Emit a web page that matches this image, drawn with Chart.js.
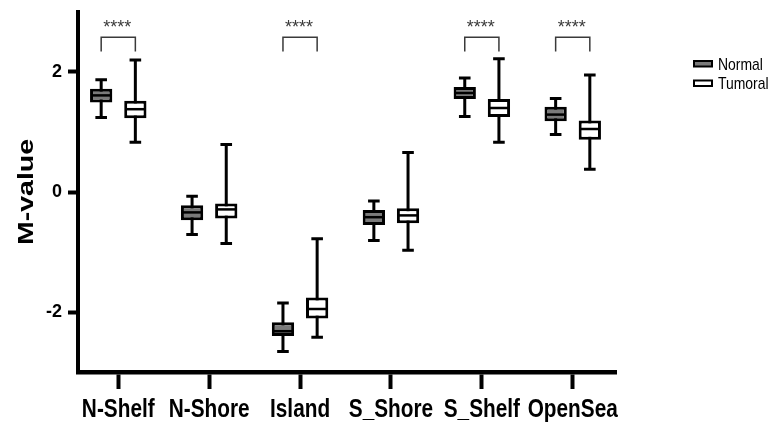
<!DOCTYPE html>
<html>
<head>
<meta charset="utf-8">
<script src="https://cdn.jsdelivr.net/npm/chart.js@4/dist/chart.umd.min.js"></script>
<style>
  html, body { margin: 0; padding: 0; background: #fff; }
  #wrap { width: 771px; height: 423px; }
</style>
</head>
<body>
<div id="wrap"><canvas id="chart" width="771" height="423"></canvas></div>
<script>
// --- Data ---
const categories = ["N-Shelf", "N-Shore", "Island", "S_Shore", "S_Shelf", "OpenSea"];
const seriesNames = ["Normal", "Tumoral"];

const normalMin = [1.24, -0.71, -2.66, -0.81, 1.26, 0.96];
const normalQ1  = [1.49, -0.47, -2.40, -0.55, 1.55, 1.18];
const normalMed = [1.61, -0.34, -2.32, -0.42, 1.65, 1.29];
const normalQ3  = [1.72, -0.22, -2.17, -0.30, 1.75, 1.42];
const normalMax = [1.87, -0.07, -1.85, -0.15, 1.90, 1.56];

const tumoralMin = [0.83, -0.86, -2.42, -0.97, 0.83, 0.38];
const tumoralQ1  = [1.23, -0.44, -2.11, -0.52, 1.25, 0.87];
const tumoralMed = [1.38, -0.29, -1.95, -0.39, 1.40, 1.05];
const tumoralQ3  = [1.52, -0.19, -1.76, -0.27, 1.55, 1.19];
const tumoralMax = [2.20, 0.79, -0.78, 0.66, 2.22, 1.95];

const yTicks = [-2, 0, 2];
const yTitle = "M-value";
const sigGroups = ["N-Shelf", "Island", "S_Shelf", "OpenSea"];
const sigLabel = "****";

const sans = "'Liberation Sans', Arial, sans-serif";

const boxStats = [
  { min: normalMin, med: normalMed, max: normalMax },
  { min: tumoralMin, med: tumoralMed, max: tumoralMax },
];

function boxData(q1, q3) {
  return categories.map((c, i) => ({ x: i, y: [q1[i], q3[i]] }));
}

// text squeezed sideways, like the condensed type of the original
function squeezedText(ctx, text, x, y, sx) {
  ctx.save();
  ctx.translate(x, y);
  ctx.scale(sx, 1);
  ctx.fillText(text, 0, 0);
  ctx.restore();
}

// --- Whiskers, medians, brackets, labels, legend ---
const boxPlotPlugin = {
  id: "boxPlot",
  beforeDatasetsDraw(chart) {
    const ctx = chart.ctx;
    const y = chart.scales.y;
    ctx.save();
    ctx.strokeStyle = "#000";
    ctx.lineWidth = 3;
    boxStats.forEach((s, d) => {
      chart.getDatasetMeta(d).data.forEach((bar, i) => {
        const yMin = y.getPixelForValue(s.min[i]);
        const yMax = y.getPixelForValue(s.max[i]);
        ctx.beginPath();
        ctx.moveTo(bar.x, yMin);
        ctx.lineTo(bar.x, yMax);
        ctx.moveTo(bar.x - 5.8, yMin);
        ctx.lineTo(bar.x + 5.8, yMin);
        ctx.moveTo(bar.x - 5.8, yMax);
        ctx.lineTo(bar.x + 5.8, yMax);
        ctx.stroke();
      });
    });
    ctx.restore();
  },
  afterDatasetsDraw(chart) {
    const ctx = chart.ctx;
    const y = chart.scales.y;
    ctx.save();
    ctx.strokeStyle = "#000";
    ctx.lineWidth = 2.5;
    boxStats.forEach((s, d) => {
      chart.getDatasetMeta(d).data.forEach((bar, i) => {
        const ym = y.getPixelForValue(s.med[i]);
        ctx.beginPath();
        ctx.moveTo(bar.x - bar.width / 2 + 2, ym);
        ctx.lineTo(bar.x + bar.width / 2 - 2, ym);
        ctx.stroke();
      });
    });

    // significance brackets
    const n = chart.getDatasetMeta(0).data;
    const t = chart.getDatasetMeta(1).data;
    const top = y.getPixelForValue(2.58);
    const legBottom = y.getPixelForValue(2.34);
    ctx.strokeStyle = "#3a3a3a";
    ctx.lineWidth = 1.5;
    ctx.fillStyle = "#3a3a3a";
    ctx.font = "18px " + sans;
    ctx.textAlign = "center";
    ctx.textBaseline = "alphabetic";
    sigGroups.forEach(g => {
      const i = categories.indexOf(g);
      const x1 = n[i].x, x2 = t[i].x;
      ctx.beginPath();
      ctx.moveTo(x1, legBottom);
      ctx.lineTo(x1, top);
      ctx.lineTo(x2, top);
      ctx.lineTo(x2, legBottom);
      ctx.stroke();
      ctx.fillText(sigLabel, (x1 + x2) / 2 - 1, top - 4.5);
    });
    ctx.restore();
  },
  afterDraw(chart) {
    const ctx = chart.ctx;
    const area = chart.chartArea;
    const xs = chart.scales.x;
    ctx.save();
    ctx.fillStyle = "#000";
    ctx.textBaseline = "alphabetic";

    // category labels
    ctx.font = "bold 26px " + sans;
    ctx.textAlign = "center";
    categories.forEach((c, i) => {
      squeezedText(ctx, c, xs.getPixelForValue(i), area.bottom + 45, 0.8);
    });

    // y title
    ctx.save();
    ctx.translate(33, (area.top + area.bottom) / 2);
    ctx.rotate(-Math.PI / 2);
    ctx.scale(1, 0.78);
    ctx.font = "bold 28.5px " + sans;
    ctx.fillText(yTitle, 0, 0);
    ctx.restore();

    // legend
    ctx.font = "17px " + sans;
    ctx.textAlign = "left";
    chart.data.datasets.forEach((ds, d) => {
      const bx = area.right + 78;
      const by = 61 + d * 19.5;
      ctx.fillStyle = ds.backgroundColor;
      ctx.fillRect(bx, by, 18, 5.5);
      ctx.strokeStyle = "#000";
      ctx.lineWidth = 2;
      ctx.strokeRect(bx, by, 18, 5.5);
      ctx.fillStyle = "#000";
      squeezedText(ctx, ds.label, bx + 24, by + 8.5, 0.82);
    });
    ctx.restore();
  }
};

new Chart(document.getElementById("chart"), {
  type: "bar",
  data: {
    datasets: [
      {
        label: seriesNames[0],
        data: boxData(normalQ1, normalQ3),
        backgroundColor: "#7a7a7a",
        borderColor: "#000",
        borderWidth: 3,
        borderSkipped: false,
        categoryPercentage: 0.752,
        barPercentage: 0.652
      },
      {
        label: seriesNames[1],
        data: boxData(tumoralQ1, tumoralQ3),
        backgroundColor: "#ffffff",
        borderColor: "#000",
        borderWidth: 3,
        borderSkipped: false,
        categoryPercentage: 0.752,
        barPercentage: 0.652
      }
    ]
  },
  options: {
    responsive: false,
    animation: false,
    layout: { padding: { top: 12, right: 155, left: 0, bottom: 0 } },
    plugins: {
      legend: { display: false },
      tooltip: { enabled: false }
    },
    scales: {
      x: {
        type: "linear",
        offset: false,
        min: -0.443,
        max: 5.476,
        afterBuildTicks: s => { s.ticks = categories.map((c, i) => ({ value: i })); },
        afterFit: s => { s.height = 51; s.paddingLeft = 0; s.paddingRight = 0; },
        grid: { offset: false, drawOnChartArea: false, tickLength: 17, tickWidth: 4, tickColor: "#000" },
        border: { width: 4.5, color: "#000" },
        ticks: { display: false }
      },
      y: {
        min: -3,
        max: 3,
        afterBuildTicks: s => { s.ticks = yTicks.map(v => ({ value: v })); },
        afterFit: s => { s.width = 78; s.paddingTop = 0; s.paddingBottom = 0; },
        grid: { drawOnChartArea: false, tickLength: 10, tickWidth: 4, tickColor: "#000" },
        border: { width: 4, color: "#000" },
        ticks: {
          padding: 6,
          color: "#000",
          font: { family: sans, weight: "bold", size: 18 }
        }
      }
    }
  },
  plugins: [boxPlotPlugin]
});
</script>
</body>
</html>
